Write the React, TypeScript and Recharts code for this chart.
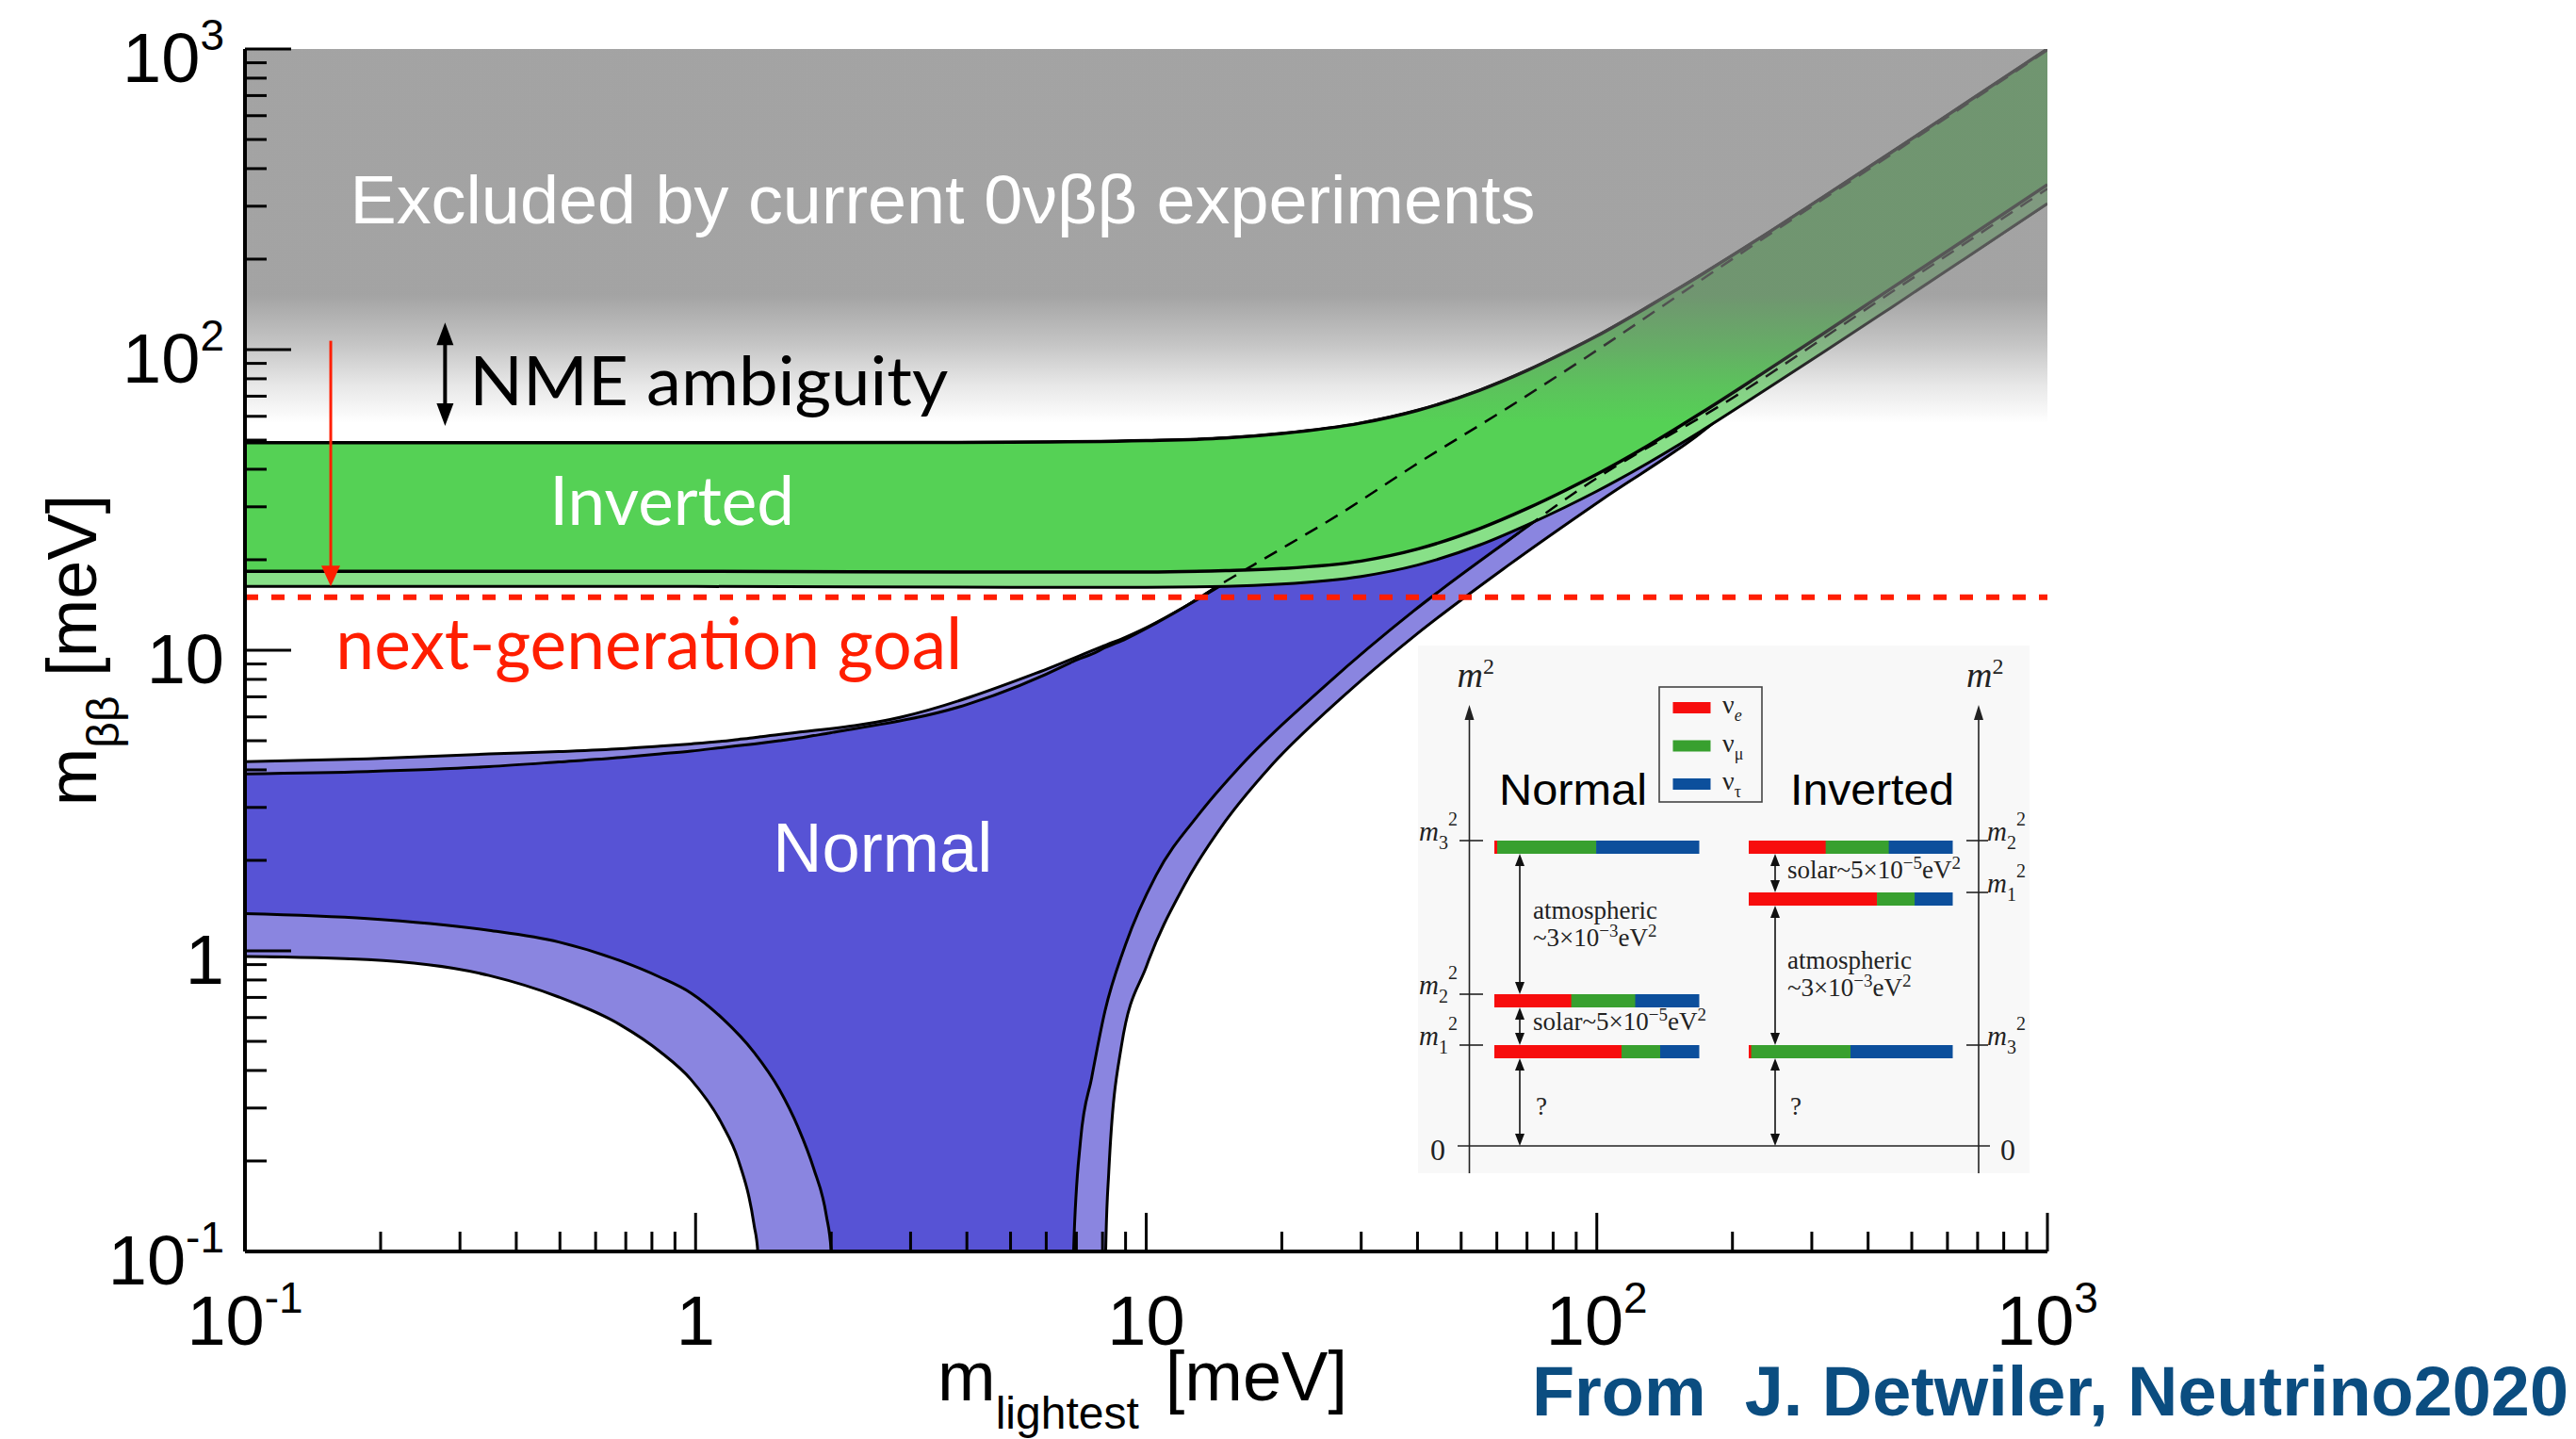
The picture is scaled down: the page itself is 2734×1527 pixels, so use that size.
import {
  ComposedChart,
  Area,
  Line,
  XAxis,
  YAxis,
  ReferenceArea,
  ReferenceLine,
  ReferenceDot,
  Label,
} from 'recharts';

const W = 2734;
const H = 1527;

// m_lightest grid [meV] with lower / upper m_bb [meV] for each band

// normal ordering, 3 sigma oscillation parameters
const noWideM = [0.1, 0.187, 0.348, 0.497, 0.684, 0.834, 0.977, 1.145, 1.242, 1.349, 1.374, 1.4, 2.87, 5.71, 8.0, 8.13, 8.26, 8.81, 10.02, 12.13, 14.96, 18.74, 27, 39.2, 63.4, 102.6, 166, 228.8, 450, 1000];
const noWideLow = [0.957, 0.935, 0.828, 0.702, 0.565, 0.462, 0.373, 0.265, 0.203, 0.122, 0.1, 0.001, 0.001, 0.001, 0.001, 0.1, 0.184, 0.482, 0.891, 1.645, 2.69, 4.06, 6.9, 11.1, 19.1, 31.7, 51.4, 75.4, 140, 306];
const noWideHigh = [4.26, 4.35, 4.52, 4.6, 4.7, 4.8, 4.88, 4.98, 5.05, 5.12, 5.14, 5.16, 6.0, 8.4, 10.3, 10.4, 10.5, 10.9, 11.9, 13.9, 16.9, 20.6, 28.5, 41, 64, 102, 166, 229, 446, 992];

// normal ordering, best fit
const noCoreM = [0.1, 0.187, 0.348, 0.497, 0.684, 0.834, 0.978, 1.148, 1.349, 1.534, 1.688, 1.828, 1.95, 2.0, 2.03, 4.0, 6.8, 6.9, 7.15, 7.57, 8.1, 9.0, 10.51, 13.15, 16.22, 25, 39.2, 63.4, 93.3, 200, 450, 1000];
const noCoreLow = [1.33, 1.28, 1.17, 1.07, 0.924, 0.817, 0.723, 0.595, 0.459, 0.346, 0.259, 0.189, 0.132, 0.1, 0.001, 0.001, 0.001, 0.1, 0.234, 0.379, 0.63, 1.05, 1.78, 2.87, 4.13, 7.64, 13.5, 23.1, 34.9, 69, 155, 343];
const noCoreHigh = [3.88, 3.95, 4.1, 4.25, 4.4, 4.52, 4.62, 4.75, 4.88, 5.0, 5.1, 5.2, 5.28, 5.32, 5.34, 6.6, 9.1, 9.2, 9.4, 9.7, 10.2, 10.9, 12.3, 14.9, 18.0, 26.8, 40.5, 64, 93.5, 199, 445, 988];

// inverted ordering
const ioM = [0.1, 1, 5, 10, 15, 20, 30, 40, 55, 70, 85, 100, 130, 170, 230, 320, 450, 650, 1000];
const ioHigh = [49, 49, 49.2, 49.8, 50.8, 52.6, 57, 62.8, 73.3, 85.2, 98, 111, 139, 177, 235, 324, 453, 652, 1000];
const ioCoreLow = [18.3, 18.3, 18.2, 18.2, 18.4, 18.7, 19.8, 21.7, 25.4, 29.6, 34.0, 38.5, 48.0, 61.4, 82.2, 113.7, 159.7, 230.2, 354];
const ioWideLow = [16.3, 16.3, 16.2, 16.2, 16.3, 16.6, 17.6, 19.2, 22.4, 26.1, 29.9, 33.8, 42, 53.5, 71.5, 98.5, 138, 199, 306];

const goalLevel = 15;

// axis ticks
const decades = [0.1, 1, 10, 100];
const steps = [1, 2, 3, 4, 5, 6, 7, 8, 9];
const logTicks = [...decades.flatMap((d) => steps.map((s) => +(d * s).toPrecision(3))), 1000];
const majorTicks = [0.1, 1, 10, 100, 1000];
const majorBase = ['10', '1', '10', '10', '10'];
const majorExp = ['-1', '', '', '2', '3'];

// flavour content of the mass states (nu_e, nu_mu, nu_tau) in the inset
const normalLevels = [
  { y: 892, sub: '3', mix: [0.014, 0.484, 0.502] },
  { y: 1055, sub: '2', mix: [0.376, 0.313, 0.311] },
  { y: 1109, sub: '1', mix: [0.622, 0.189, 0.189] },
];
const invertedLevels = [
  { y: 892, sub: '2', mix: [0.378, 0.31, 0.312] },
  { y: 947, sub: '1', mix: [0.63, 0.185, 0.185] },
  { y: 1109, sub: '3', mix: [0.012, 0.488, 0.5] },
];
const flavourColors = ['#f70d0d', '#38a02f', '#0c4f9c'];
const flavourSubs = ['e', 'μ', 'τ'];

const band = (ms: number[], lo: number[], hi: number[]) =>
  ms.map((m, i) => ({ m, band: [lo[i], hi[i]] }));

const noWideData = band(noWideM, noWideLow, noWideHigh);
const noCoreData = band(noCoreM, noCoreLow, noCoreHigh);
const ioWideData = band(ioM, ioWideLow, ioHigh);
const ioCoreData = band(ioM, ioCoreLow, ioHigh);

// parts of the normal-ordering edges that run behind the inverted band
const noUpperHidden = noWideM.map((m, i) => ({ m, v: noWideHigh[i] })).filter((d) => d.m >= 12);
const noLowerHidden = noCoreM.map((m, i) => ({ m, v: noCoreLow[i] })).filter((d) => d.m >= 63);

const SANS = 'Liberation Sans, Arial, sans-serif';
const GILL = 'Lato, sans-serif';
const SERIF = 'Liberation Serif, Times New Roman, serif';

const isMajor = (v: number) => Math.abs(Math.log10(v) - Math.round(Math.log10(v))) < 1e-6;

function TickLabel({ x, y, v, anchor }: { x: number; y: number; v: number; anchor: 'middle' | 'end' }) {
  const i = majorTicks.findIndex((t) => Math.abs(t - v) < 1e-9);
  if (i < 0) return null;
  return (
    <text x={x} y={y} textAnchor={anchor} fontFamily={SANS} fontSize={74} fill="#000">
      {majorBase[i]}
      {majorExp[i] && (
        <tspan dy={-34} fontSize={46}>
          {majorExp[i]}
        </tspan>
      )}
    </text>
  );
}

function XTick(props: any) {
  const { x, y, payload } = props;
  const major = isMajor(payload.value);
  return (
    <g>
      <line x1={x} x2={x} y1={y} y2={y - (major ? 41 : 21)} stroke="#000" strokeWidth={3} />
      {major && <TickLabel x={x} y={y + 99} v={payload.value} anchor="middle" />}
    </g>
  );
}

function YTick(props: any) {
  const { x, y, payload } = props;
  const major = isMajor(payload.value);
  return (
    <g>
      <line x1={x} x2={x + (major ? 49 : 23)} y1={y} y2={y} stroke="#000" strokeWidth={3} />
      {major && <TickLabel x={x - 22} y={y + 35} v={payload.value} anchor="end" />}
    </g>
  );
}

function XTitle(props: any) {
  const { x, y } = props.viewBox;
  return (
    <text x={x + 735} y={y + 158} fontFamily={SANS} fontSize={74} fill="#000">
      m
      <tspan dy={30} fontSize={48}>
        lightest
      </tspan>
      <tspan dy={-30} dx={28}>[meV]</tspan>
    </text>
  );
}

function YTitle(props: any) {
  const { x, y, height } = props.viewBox;
  const cx = x + 42;
  const cy = y + height / 2;
  return (
    <text
      x={cx}
      y={cy}
      transform={`rotate(-90, ${cx}, ${cy})`}
      textAnchor="middle"
      fontFamily={SANS}
      fontSize={74}
      fill="#000"
    >
      m
      <tspan dy={24} fontSize={48}>
        ββ
      </tspan>
      <tspan dy={-24}> [meV]</tspan>
    </text>
  );
}

// vertical arrow drawn between the two ends of a reference segment
const arrowShape = (color: string, width: number, head: number, half: number, both: boolean) => (p: any) => {
  const x = p.x1;
  const top = Math.min(p.y1, p.y2);
  const bot = Math.max(p.y1, p.y2);
  return (
    <g>
      <line x1={x} x2={x} y1={both ? top + head - 2 : top} y2={bot - head + 2} stroke={color} strokeWidth={width} />
      <polygon points={`${x},${bot} ${x - half},${bot - head} ${x + half},${bot - head}`} fill={color} />
      {both && <polygon points={`${x},${top} ${x - half},${top + head} ${x + half},${top + head}`} fill={color} />}
    </g>
  );
};

const textShape = (content: string, style: Record<string, any>) => (p: any) => (
  <text x={p.cx} y={p.cy} lengthAdjust="spacingAndGlyphs" {...style}>
    {content}
  </text>
);

function DArrow({ x, y1, y2 }: { x: number; y1: number; y2: number }) {
  return (
    <g>
      <line x1={x} x2={x} y1={y1 + 8} y2={y2 - 8} stroke="#111" strokeWidth={1.6} />
      <polygon points={`${x},${y1} ${x - 5},${y1 + 13} ${x + 5},${y1 + 13}`} fill="#111" />
      <polygon points={`${x},${y2} ${x - 5},${y2 - 13} ${x + 5},${y2 - 13}`} fill="#111" />
    </g>
  );
}

function Level({ x0, width, y, mix }: { x0: number; width: number; y: number; mix: number[] }) {
  let acc = x0;
  return (
    <g>
      {mix.map((f, k) => {
        const w = f * width;
        const r = <rect key={k} x={acc} y={y} width={w + 0.5} height={14} fill={flavourColors[k]} />;
        acc += w;
        return r;
      })}
    </g>
  );
}

function LevelLabel({ x, y, sub }: { x: number; y: number; sub: string }) {
  return (
    <text x={x} y={y} fontFamily={SERIF} fontSize={29} fill="#222">
      <tspan fontStyle="italic">m</tspan>
      <tspan dy={9} fontSize={20}>
        {sub}
      </tspan>
      <tspan dy={-25} fontSize={20}>
        2
      </tspan>
    </text>
  );
}

function Splitting({ x, y, kind }: { x: number; y: number; kind: 'atm' | 'sol' }) {
  const style = { fontFamily: SERIF, fontSize: 27, fill: '#222' };
  if (kind === 'sol') {
    return (
      <text x={x} y={y} {...style}>
        solar~5×10
        <tspan dy={-10} fontSize={19}>
          −5
        </tspan>
        <tspan dy={10}>eV</tspan>
        <tspan dy={-10} fontSize={19}>
          2
        </tspan>
      </text>
    );
  }
  return (
    <g>
      <text x={x} y={y} {...style}>
        atmospheric
      </text>
      <text x={x} y={y + 29} {...style}>
        ~3×10
        <tspan dy={-10} fontSize={19}>
          −3
        </tspan>
        <tspan dy={10}>eV</tspan>
        <tspan dy={-10} fontSize={19}>
          2
        </tspan>
      </text>
    </g>
  );
}

function Inset() {
  const nX = 1586;
  const iX = 1856;
  const barW = 217;
  return (
    <svg width={W} height={H} style={{ position: 'absolute', left: 0, top: 0, pointerEvents: 'none' }}>
      <rect x={1505} y={685} width={649} height={560} fill="#f8f8f8" />

      {/* mass axes */}
      {[1559.5, 2100].map((ax) => (
        <g key={ax}>
          <line x1={ax} x2={ax} y1={1245} y2={760} stroke="#222" strokeWidth={1.6} />
          <polygon points={`${ax},${748} ${ax - 5},${764} ${ax + 5},${764}`} fill="#222" />
          <text x={ax - 13} y={729} fontFamily={SERIF} fontSize={38} fill="#222">
            <tspan fontStyle="italic">m</tspan>
            <tspan dy={-14} fontSize={24}>
              2
            </tspan>
          </text>
        </g>
      ))}
      <line x1={1547} x2={2112} y1={1216} y2={1216} stroke="#222" strokeWidth={1.6} />
      <text x={1518} y={1231} fontFamily={SERIF} fontSize={32} fill="#222">
        0
      </text>
      <text x={2123} y={1231} fontFamily={SERIF} fontSize={32} fill="#222">
        0
      </text>

      {/* legend */}
      <rect x={1761} y={729} width={109} height={122} fill="none" stroke="#444" strokeWidth={1.6} />
      {flavourColors.map((c, k) => (
        <g key={c}>
          <rect x={1775.5} y={745 + 40.5 * k} width={40} height={12} fill={c} />
          <text x={1828} y={757 + 40.5 * k} fontFamily={SERIF} fontSize={28} fill="#222">
            ν
            <tspan dy={8} fontSize={18} fontStyle={k === 0 ? 'italic' : 'normal'}>
              {flavourSubs[k]}
            </tspan>
          </text>
        </g>
      ))}

      <text x={1591} y={854} fontFamily={SANS} fontSize={46} fill="#000" textLength={157} lengthAdjust="spacingAndGlyphs">
        Normal
      </text>
      <text x={1900} y={854} fontFamily={SANS} fontSize={46} fill="#000" textLength={174} lengthAdjust="spacingAndGlyphs">
        Inverted
      </text>

      {normalLevels.map((l) => (
        <g key={`n${l.sub}`}>
          <line x1={1549} x2={1574} y1={l.y} y2={l.y} stroke="#222" strokeWidth={1.6} />
          <LevelLabel x={1506} y={l.y} sub={l.sub} />
          <Level x0={nX} width={barW} y={l.y} mix={l.mix} />
        </g>
      ))}
      {invertedLevels.map((l) => (
        <g key={`i${l.sub}`}>
          <line x1={2087} x2={2110} y1={l.y} y2={l.y} stroke="#222" strokeWidth={1.6} />
          <LevelLabel x={2109} y={l.y} sub={l.sub} />
          <Level x0={iX} width={barW - 1} y={l.y} mix={l.mix} />
        </g>
      ))}

      <DArrow x={1613} y1={906} y2={1055} />
      <DArrow x={1613} y1={1069} y2={1109} />
      <DArrow x={1613} y1={1123} y2={1216} />
      <DArrow x={1884} y1={906} y2={947} />
      <DArrow x={1884} y1={961} y2={1109} />
      <DArrow x={1884} y1={1123} y2={1216} />

      <Splitting x={1627} y={975} kind="atm" />
      <Splitting x={1627} y={1093} kind="sol" />
      <Splitting x={1897} y={932} kind="sol" />
      <Splitting x={1897} y={1028} kind="atm" />
      <text x={1630} y={1183} fontFamily={SERIF} fontSize={27} fill="#222">
        ?
      </text>
      <text x={1900} y={1183} fontFamily={SERIF} fontSize={27} fill="#222">
        ?
      </text>

      <text
        x={1626}
        y={1502}
        fontFamily={SANS}
        fontWeight="bold"
        fontSize={74}
        fill="#0b4d80"
        textLength={1100}
        lengthAdjust="spacingAndGlyphs"
        style={{ whiteSpace: 'pre' }}
      >
        From  J. Detwiler, Neutrino2020
      </text>
    </svg>
  );
}

export default function App() {
  return (
    <div style={{ position: 'absolute', left: 0, top: 0, width: W, height: H, background: '#fff' }}>
      <ComposedChart width={W} height={H} margin={{ top: 52, right: 561, bottom: 49, left: 60 }}>
        <defs>
          <linearGradient id="excluded" x1="0" y1="0" x2="0" y2="1">
            <stop offset="0" stopColor="#7c7c7c" stopOpacity={0.7} />
            <stop offset="0.585" stopColor="#7c7c7c" stopOpacity={0.7} />
            <stop offset="0.7" stopColor="#7c7c7c" stopOpacity={0.45} />
            <stop offset="0.8" stopColor="#7c7c7c" stopOpacity={0.18} />
            <stop offset="0.89" stopColor="#7c7c7c" stopOpacity={0} />
            <stop offset="1" stopColor="#7c7c7c" stopOpacity={0} />
          </linearGradient>
        </defs>

        <Area data={noWideData} dataKey="band" type="monotone" fill="#8a85e0" fillOpacity={1}
          stroke="#000" strokeWidth={3} isAnimationActive={false} activeDot={false} zIndex={100} />
        <Area data={noCoreData} dataKey="band" type="monotone" fill="#5753d5" fillOpacity={1}
          stroke="#000" strokeWidth={3} isAnimationActive={false} activeDot={false} zIndex={100} />
        <Area data={ioWideData} dataKey="band" type="monotone" fill="#88e088" fillOpacity={1}
          stroke="#000" strokeWidth={3} isAnimationActive={false} activeDot={false} zIndex={100} />
        <Area data={ioCoreData} dataKey="band" type="monotone" fill="#55d155" fillOpacity={1}
          stroke="#000" strokeWidth={3.5} isAnimationActive={false} activeDot={false} zIndex={100} />

        <Line data={noUpperHidden} dataKey="v" type="monotone" stroke="#000" strokeWidth={2.5}
          strokeDasharray="15 10" dot={false} activeDot={false} isAnimationActive={false} zIndex={400} />
        <Line data={noLowerHidden} dataKey="v" type="monotone" stroke="#000" strokeWidth={2.5}
          strokeDasharray="15 10" dot={false} activeDot={false} isAnimationActive={false} zIndex={400} />

        <ReferenceArea x1={0.1} x2={1000} y1={40} y2={1000} fill="url(#excluded)" fillOpacity={1}
          stroke="none" zIndex={450} />

        <ReferenceLine y={goalLevel} stroke="#ff1e00" strokeWidth={6} strokeDasharray="14 14" zIndex={460} />
        <ReferenceLine segment={[{ x: 0.155, y: 107 }, { x: 0.155, y: 16.3 }]}
          shape={arrowShape('#ff1e00', 3, 22, 10, false)} zIndex={460} />
        <ReferenceLine segment={[{ x: 0.278, y: 123 }, { x: 0.278, y: 55.7 }]}
          shape={arrowShape('#000', 4, 24, 9, true)} zIndex={460} />

        <ReferenceDot x={0.171} y={263} zIndex={2000}
          shape={textShape('Excluded by current 0νββ experiments', { fontFamily: SANS, fontSize: 72, fill: '#fff', textLength: 1258 })} />
        <ReferenceDot x={0.315} y={65.3} zIndex={2000}
          shape={textShape('NME ambiguity', { fontFamily: GILL, fontSize: 72, fill: '#000', textLength: 508 })} />
        <ReferenceDot x={0.474} y={26.1} zIndex={2000}
          shape={textShape('Inverted', { fontFamily: GILL, fontSize: 72, fill: '#fff', textLength: 260 })} />
        <ReferenceDot x={0.159} y={8.66} zIndex={2000}
          shape={textShape('next-generation goal', { fontFamily: GILL, fontSize: 76, fill: '#ff1e00', textLength: 665 })} />
        <ReferenceDot x={1.484} y={1.83} zIndex={2000}
          shape={textShape('Normal', { fontFamily: SANS, fontSize: 74, fill: '#fff', textLength: 233 })} />

        <XAxis dataKey="m" type="number" scale="log" domain={[0.1, 1000]} allowDataOverflow
          ticks={logTicks} interval={0} tickSize={0} tickMargin={0} tickLine={false} tick={<XTick />}
          axisLine={{ stroke: '#000', strokeWidth: 4 }} height={150} zIndex={500}>
          <Label content={<XTitle />} />
        </XAxis>
        <YAxis type="number" scale="log" domain={[0.1, 1000]} allowDataOverflow
          ticks={logTicks} interval={0} tickSize={0} tickMargin={0} tickLine={false} tick={<YTick />}
          axisLine={{ stroke: '#000', strokeWidth: 4 }} width={200} zIndex={500}>
          <Label content={<YTitle />} />
        </YAxis>
        <XAxis xAxisId="top" orientation="top" type="number" scale="log" domain={[0.1, 1000]}
          allowDataOverflow height={0} tick={false} tickLine={false}
          axisLine={{ stroke: '#000', strokeWidth: 3 }} zIndex={500} />
        <YAxis yAxisId="right" orientation="right" type="number" scale="log" domain={[0.1, 1000]}
          allowDataOverflow width={0} tick={false} tickLine={false}
          axisLine={{ stroke: '#000', strokeWidth: 3 }} zIndex={500} />
      </ComposedChart>
      <Inset />
    </div>
  );
}
